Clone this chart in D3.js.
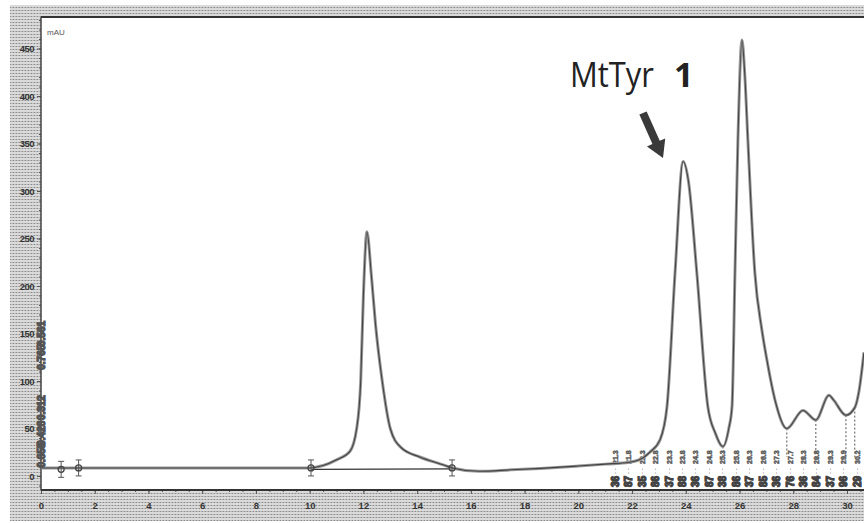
<!DOCTYPE html>
<html>
<head>
<meta charset="utf-8">
<script src="https://cdn.jsdelivr.net/npm/d3@7/dist/d3.min.js"></script>
<style>
html,body{margin:0;padding:0;background:#fff;}
svg{display:block;}
</style>
</head>
<body>
<svg id="chart" width="864" height="523"></svg>
<script>
// ---- data ----
const times  = [0.0, 2.0, 5.0, 8.0, 10.0, 10.5, 11.0, 11.5, 11.75, 11.9, 12.0, 12.13, 12.3, 12.45, 12.7, 13.0, 13.4, 14.1, 15.0, 15.3, 16.3, 17.5, 18.6, 20.0, 21.0, 21.9, 22.4, 22.66, 23.04, 23.3, 23.6, 23.9, 24.1, 24.41, 24.82, 25.1, 25.38, 25.6, 25.72, 25.83, 25.94, 26.09, 26.2, 26.31, 26.57, 26.83, 27.02, 27.32, 27.76, 28.36, 28.84, 29.33, 29.5, 29.96, 30.29, 30.45, 30.63];
const signal = [8.5, 8.5, 8.5, 8.5, 8.5, 11, 17, 26, 50, 100, 190, 257, 210, 160, 100, 50, 30, 20, 11.5, 8.5, 5, 6.5, 8, 10.5, 12.5, 14.5, 19, 25, 38, 73, 214, 331, 310, 214, 73, 45, 31, 50, 73, 214, 354, 459, 420, 354, 214, 154, 122, 80, 50, 69, 59, 85, 80, 64, 72, 90, 130];

const xTicks = [0, 2, 4, 6, 8, 10, 12, 14, 16, 18, 20, 22, 24, 26, 28, 30];
const yTicks = [0, 50, 100, 150, 200, 250, 300, 350, 400, 450];
const yUnit = "mAU";

// integration boundary markers (min, mAU)
const markTimes = [0.75, 1.4, 10.05, 15.3];
const markVals  = [7, 8.5, 8.5, 8.5];
// drop lines at valleys
const dropTimes = [25.38, 27.76, 28.84, 29.96, 30.29];
const dropVals  = [31, 50, 59, 64, 72];
// crowded peak labels along the bottom
const peakLabelTimes = [21.36, 21.86, 22.36, 22.86, 23.36, 23.86, 24.36, 24.86, 25.36, 25.86, 26.36, 26.86, 27.36, 27.86, 28.36, 28.84, 29.36, 29.86, 30.36];
const peakLabelText  = ["21.36", "21.87", "22.35", "22.86", "23.37", "23.88", "24.36", "24.87", "25.38", "25.86", "26.37", "26.85", "27.36", "27.76", "28.36", "28.84", "29.37", "29.96", "30.29"];
// labels overlapping the y axis
const axisLabelVals = [150, 125, 72, 45, 22];
const axisLabelText = ["0.561", "0.765", "0.312", "0.428", "0.655"];

const annotText = "MtTyr";
const annotBold = "1";

// ---- drawing ----
const svg = d3.select("#chart");
const W = 864, H = 523;
const L = 41, T = 17, B = 490, R = 870;

const x = d3.scaleLinear().domain([0, 30]).range([41, 847]);
const y = d3.scaleLinear().domain([0, 450]).range([476, 48.5]);

const defs = svg.append("defs");
const pat = defs.append("pattern").attr("id", "hatch").attr("patternUnits", "userSpaceOnUse")
  .attr("width", 3).attr("height", 3);
pat.append("rect").attr("width", 3).attr("height", 3).attr("fill", "#dadada");
pat.append("rect").attr("x", 1).attr("y", 1).attr("width", 1).attr("height", 1).attr("fill", "#8a8a8a");
pat.append("rect").attr("x", 0).attr("y", 1).attr("width", 1).attr("height", 1).attr("fill", "#b2b2b2");
pat.append("rect").attr("x", 2).attr("y", 1).attr("width", 1).attr("height", 1).attr("fill", "#c2c2c2");
defs.append("clipPath").attr("id", "plotclip").append("rect")
  .attr("x", L).attr("y", T).attr("width", R - L).attr("height", B - T);

svg.append("rect").attr("x", 0).attr("y", 0).attr("width", W).attr("height", H).attr("fill", "#fff");
svg.append("rect").attr("x", 10).attr("y", 5).attr("width", W - 10).attr("height", 516).attr("fill", "url(#hatch)");
svg.append("rect").attr("x", L).attr("y", T).attr("width", R - L).attr("height", B - T).attr("fill", "#fff");

// frame
svg.append("line").attr("x1", L).attr("x2", W).attr("y1", T).attr("y2", T)
  .attr("stroke", "#333").attr("stroke-width", 2);

const font = "'Liberation Sans', Arial, sans-serif";

// axes
const yMinor = d3.range(-10, 481, 10);
const gy = svg.append("g").attr("transform", `translate(${L},0)`);
gy.call(d3.axisLeft(y).tickValues(yMinor).tickSize(2).tickFormat(""));
gy.call(g => g.select(".domain").remove());
const gy2 = svg.append("g").attr("transform", `translate(${L},0)`);
gy2.call(d3.axisLeft(y).tickValues(yTicks).tickSize(4).tickPadding(3));
gy2.select(".domain").remove();
gy2.selectAll("text").attr("font-family", font).attr("font-size", 9.5).attr("fill", "#333")
  .attr("font-weight", "bold").attr("letter-spacing", "-0.5");
svg.selectAll(".tick line").attr("stroke", "#555");
svg.append("line").attr("x1", L).attr("x2", L).attr("y1", T).attr("y2", B)
  .attr("stroke", "#444").attr("stroke-width", 1.5);

const xMinor = d3.range(0, 31, 0.5);
const gx = svg.append("g").attr("transform", `translate(0,${B})`);
gx.call(d3.axisBottom(x).tickValues(xMinor).tickSize(2).tickFormat(""));
gx.select(".domain").remove();
const gx2 = svg.append("g").attr("transform", `translate(0,${B})`);
gx2.call(d3.axisBottom(x).tickValues(xTicks).tickSize(4).tickPadding(8));
gx2.select(".domain").remove();
gx2.selectAll("text").attr("font-family", font).attr("font-size", 9.5).attr("fill", "#333")
  .attr("font-weight", "bold");
svg.selectAll(".tick line").attr("stroke", "#555");
svg.append("line").attr("x1", L).attr("x2", W).attr("y1", B).attr("y2", B)
  .attr("stroke", "#333").attr("stroke-width", 2);

svg.append("text").attr("x", 47).attr("y", 35).text(yUnit)
  .attr("font-family", font).attr("font-size", 8).attr("fill", "#555");

const plot = svg.append("g").attr("clip-path", "url(#plotclip)");

// integration baselines
plot.append("line").attr("x1", x(10.05)).attr("x2", x(15.3)).attr("y1", y(7)).attr("y2", y(7.5))
  .attr("stroke", "#333").attr("stroke-width", 1.3);
plot.append("line").attr("x1", x(0)).attr("x2", x(10.05)).attr("y1", y(8)).attr("y2", y(8))
  .attr("stroke", "#777").attr("stroke-width", 1).attr("stroke-dasharray", "1,1");

// drop lines
plot.selectAll(".drop").data(dropTimes).join("line")
  .attr("x1", d => x(d)).attr("x2", d => x(d))
  .attr("y1", (d, i) => y(dropVals[i])).attr("y2", y(20))
  .attr("stroke", "#555").attr("stroke-width", 1).attr("stroke-dasharray", "2,2");

// peak labels rows
const rowG = plot.append("g");
peakLabelTimes.forEach((t, i) => {
  const px = x(t);
  rowG.append("text").attr("transform", `translate(${px + 3},${464}) rotate(-90)`)
    .text(peakLabelText[i].slice(0, 4)).attr("font-family", font).attr("font-size", 7)
    .attr("font-weight", "bold").attr("fill", "#444").attr("stroke", "#666").attr("stroke-width", 0.5);
  rowG.append("text").attr("transform", `translate(${px + 2},${474}) rotate(-90)`)
    .text("- -").attr("font-family", font).attr("font-size", 6).attr("fill", "#555");
  rowG.append("text").attr("transform", `translate(${px + 4},${487}) rotate(-90)`)
    .text(peakLabelText[i].slice(3, 5)).attr("font-family", font).attr("font-size", 10)
    .attr("font-weight", "bold").attr("fill", "#333").attr("stroke", "#444").attr("stroke-width", 1.2);
});

// signal
const pts = times.map((t, i) => [t, signal[i]]);
const line = d3.line().x(d => x(d[0])).y(d => y(d[1])).curve(d3.curveMonotoneX);
plot.append("path").datum(pts).attr("d", line).attr("fill", "none")
  .attr("stroke", "#9a9a9a").attr("stroke-width", 3);
plot.append("path").datum(pts).attr("d", line).attr("fill", "none")
  .attr("stroke", "#444").attr("stroke-width", 1.1);

// markers
markTimes.forEach((t, i) => {
  const mx = x(t), my = y(markVals[i]);
  plot.append("path").attr("d", `M${mx - 3},${my - 8}h6M${mx},${my - 8}v16M${mx - 3},${my + 8}h6`)
    .attr("stroke", "#555").attr("stroke-width", 1).attr("fill", "none");
  plot.append("circle").attr("cx", mx).attr("cy", my).attr("r", 3)
    .attr("fill", "none").attr("stroke", "#444").attr("stroke-width", 1.3);
});

// labels crowding the y axis
axisLabelVals.forEach((v, i) => {
  svg.append("text").attr("transform", `translate(${L + 4},${y(v)}) rotate(-90)`)
    .attr("text-anchor", "middle").text(axisLabelText[i])
    .attr("font-family", font).attr("font-size", 10).attr("font-weight", "bold")
    .attr("fill", "#444").attr("stroke", "#555").attr("stroke-width", 1.2);
});

// annotation
svg.append("text").attr("x", 570).attr("y", 87)
  .attr("font-family", "'Open Sans', 'Noto Sans', sans-serif").attr("font-size", 34).attr("fill", "#222")
  .attr("textLength", 84).attr("lengthAdjust", "spacingAndGlyphs").text(annotText);
svg.append("text").attr("x", 674).attr("y", 87)
  .attr("font-family", "'Open Sans', 'Noto Sans', sans-serif").attr("font-size", 34).attr("fill", "#222")
  .attr("font-weight", "bold").text(annotBold);

// arrow
const ax0 = 643, ay0 = 113, ax1 = 663, ay1 = 158;
const ang = Math.atan2(ay1 - ay0, ax1 - ax0);
const shaftW = 4, headW = 10, headL = 17;
const len = Math.hypot(ax1 - ax0, ay1 - ay0);
const pt = (along, across) => [ax0 + Math.cos(ang) * along - Math.sin(ang) * across,
                                ay0 + Math.sin(ang) * along + Math.cos(ang) * across];
const poly = [pt(0, -shaftW), pt(len - headL, -shaftW), pt(len - headL, -headW), pt(len, 0),
              pt(len - headL, headW), pt(len - headL, shaftW), pt(0, shaftW)];
svg.append("polygon").attr("points", poly.map(p => p.join(",")).join(" "))
  .attr("fill", "#3a3a3a");
</script>
</body>
</html>
